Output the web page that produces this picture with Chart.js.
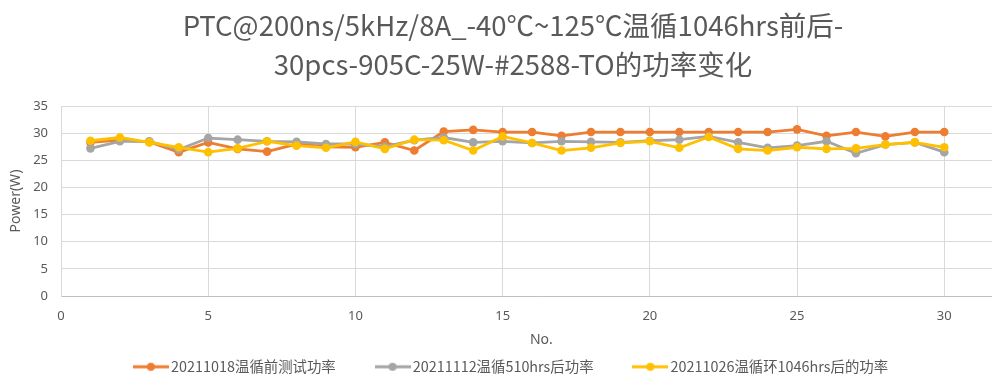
<!DOCTYPE html>
<html>
<head>
<meta charset="utf-8">
<script src="https://cdn.jsdelivr.net/npm/chart.js@4"></script>
<style>
html,body{margin:0;padding:0;background:#fff;overflow:hidden;width:992px;height:380px;}
canvas{display:block;}
</style>
</head>
<body>
<canvas id="c" width="1026" height="380"></canvas>
<script>
const titleLines = ["PTC@200ns/5kHz/8A_-40℃~125℃温循1046hrs前后-", "30pcs-905C-25W-#2588-TO的功率变化"];
const xTitle = "No.";
const yTitle = "Power(W)";
const seriesNames = ["20211018温循前测试功率", "20211112温循510hrs后功率", "20211026温循环1046hrs后的功率"];
const seriesColors = ["#ED7D31", "#A5A5A5", "#FFC000"];
const nos = [1,2,3,4,5,6,7,8,9,10,11,12,13,14,15,16,17,18,19,20,21,22,23,24,25,26,27,28,29,30];
const before = [28.3,28.7,28.4,26.5,28.3,27.1,26.6,28.0,27.5,27.4,28.3,26.8,30.3,30.6,30.2,30.2,29.5,30.2,30.2,30.2,30.2,30.2,30.2,30.2,30.7,29.5,30.2,29.4,30.2,30.2];
const after510 = [27.2,28.5,28.5,27.0,29.1,28.8,28.5,28.4,28.0,28.0,27.5,28.7,29.2,28.3,28.5,28.2,28.5,28.4,28.3,28.6,28.8,29.4,28.3,27.3,27.7,28.5,26.3,27.9,28.3,26.5];
const after1046 = [28.6,29.2,28.3,27.4,26.5,27.2,28.5,27.7,27.3,28.4,27.1,28.8,28.7,26.8,29.4,28.2,26.8,27.3,28.2,28.5,27.3,29.3,27.1,26.8,27.4,27.1,27.2,27.9,28.3,27.4];
const yTicks = [0,5,10,15,20,25,30,35];
const xTicks = [0,5,10,15,20,25,30];

function legendIcon(color){
  const cv = document.createElement('canvas');
  cv.width = 36; cv.height = 10;
  const g = cv.getContext('2d');
  g.strokeStyle = color; g.lineWidth = 3;
  g.beginPath(); g.moveTo(0,5); g.lineTo(36,5); g.stroke();
  g.fillStyle = color;
  g.beginPath(); g.arc(18,5,4,0,Math.PI*2); g.fill();
  return cv;
}

const allSeries = [before, after510, after1046];
const datasets = allSeries.map((vals, i) => ({
  label: seriesNames[i],
  data: nos.map((n, k) => ({x: n, y: vals[k]})),
  borderColor: seriesColors[i],
  backgroundColor: seriesColors[i],
  pointBackgroundColor: seriesColors[i],
  pointBorderColor: seriesColors[i],
  pointRadius: 4.3,
  pointBorderWidth: 0,
  borderWidth: 2.8,
  tension: 0,
  order: 3 - i,
  pointStyle: 'circle'
}));
const icons = seriesColors.map(legendIcon);

new Chart(document.getElementById('c'), {
  type: 'line',
  data: {datasets},
  options: {
    responsive: false,
    animation: false,
    devicePixelRatio: 1,
    layout: {padding: {left: 0, right: 0, top: 0, bottom: -4}},
    plugins: {
      tooltip: {enabled: false},
      title: {
        display: true,
        text: titleLines,
        color: '#595959',
        font: {family: '"Noto Sans CJK SC", "Noto Sans", sans-serif', size: 27.5, weight: 'normal', lineHeight: 39 / 27.5},
        padding: {top: 6.5, bottom: 21.5}
      },
      legend: {
        position: 'bottom',
        labels: {
          usePointStyle: true,
          pointStyleWidth: 26,
          padding: 15,
          color: '#595959',
          font: {family: '"Noto Sans CJK SC", "Noto Sans", sans-serif', size: 14.4},
          sort: (a, b) => a.datasetIndex - b.datasetIndex,
          generateLabels: (chart) => chart.data.datasets.map((ds, i) => ({
            text: ds.label + (i < 2 ? '\u3000\u3000' : ''),
            fillStyle: ds.borderColor,
            strokeStyle: ds.borderColor,
            fontColor: '#595959',
            lineWidth: 0,
            pointStyle: icons[i],
            hidden: false,
            datasetIndex: i
          }))
        }
      }
    },
    scales: {
      x: {
        type: 'linear',
        min: 0, max: 32.63,
        afterBuildTicks: (s) => { s.ticks = xTicks.map(v => ({value: v})); },
        afterFit: (s) => { s.height = 48.5; },
        grid: {color: '#d9d9d9', drawTicks: false, lineWidth: 1},
        border: {color: '#bfbfbf', width: 1},
        ticks: {color: '#595959', padding: 12, font: {family: '"Noto Sans", sans-serif', size: 13}},
        title: {display: true, text: xTitle, color: '#595959', font: {family: '"Noto Sans", sans-serif', size: 14}, padding: {top: 0, bottom: -4}}
      },
      y: {
        min: 0, max: 35,
        afterBuildTicks: (s) => { s.ticks = yTicks.map(v => ({value: v})); },
        afterFit: (s) => { s.width = 61; },
        grid: {color: '#d9d9d9', drawTicks: false, lineWidth: 1},
        border: {color: '#d9d9d9', width: 1},
        ticks: {color: '#595959', padding: 13, font: {family: '"Noto Sans", sans-serif', size: 13}},
        title: {display: true, text: yTitle, color: '#595959', font: {family: '"Noto Sans", sans-serif', size: 14}, padding: {top: 8, bottom: 0}}
      }
    }
  }
});
</script>
</body>
</html>
